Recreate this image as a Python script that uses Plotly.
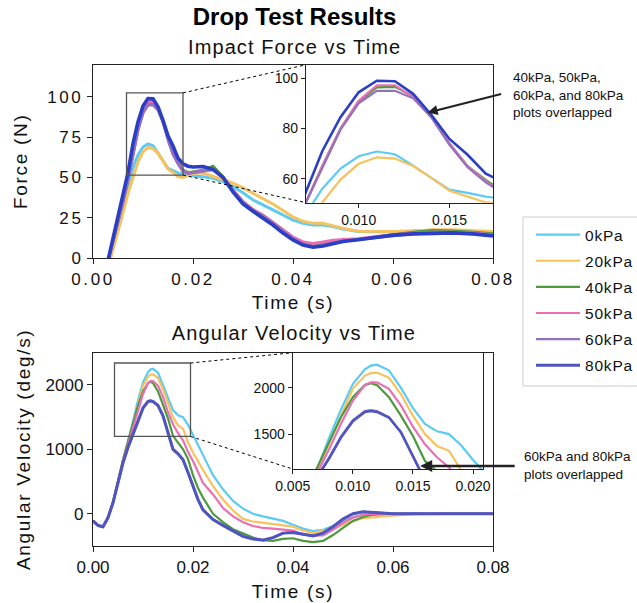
import plotly.graph_objects as go

# ---------------- data ----------------
series_names = ["0kPa", "20kPa", "40kPa", "50kPa", "60kPa", "80kPa"]

t_force = [0.000, 0.002, 0.003, 0.004, 0.005, 0.006, 0.007, 0.008, 0.009, 0.010,
           0.011, 0.012, 0.013, 0.014, 0.015, 0.016, 0.017, 0.018, 0.019, 0.020,
           0.022, 0.024, 0.026, 0.028, 0.030, 0.032, 0.034, 0.036, 0.038, 0.040,
           0.042, 0.044, 0.046, 0.048, 0.050, 0.053, 0.056, 0.060, 0.064, 0.068,
           0.072, 0.076, 0.080]

force_0kPa = [-8, -8, -4, 8, 20, 32, 45, 56, 64, 68.9, 70.8, 69.7, 65.2, 60.3, 55.6,
              54.3, 52.8, 52, 51.5, 51, 50.5, 49.5, 47.5, 44.3, 40.5, 36, 33, 30, 26.5,
              23.5, 21.5, 20.5, 20.5, 19.5, 18, 16.5, 16.3, 16.3, 16.8, 17.3, 17, 16.5, 16]
force_20kPa = [-10, -10, -6, 5, 16, 28, 40, 50.5, 59.6, 65.9, 68.5, 68, 65, 60.3, 55.2,
               53, 50.5, 50, 51.5, 52.5, 52.7, 50.5, 48.5, 46.4, 43.5, 40.2, 37, 33.5, 29.5,
               25.5, 22.8, 21.5, 21.6, 20, 18.4, 16.6, 16.4, 16.4, 16.8, 17.5, 17.6, 17, 16.5]
force_40kPa = [-8, -8, -2, 10, 23, 35, 49, 65, 80, 90.7, 96.4, 96.6, 92.8, 85, 74,
               65, 59.5, 54.5, 53, 53.5, 54.5, 57, 50.5, 42, 35, 30, 26.5, 22, 17.5,
               12.5, 9, 7.5, 8.5, 9.5, 10.5, 11.5, 12.8, 14.5, 16, 17, 16.8, 16, 15]
force_50kPa = [-8, -8, -2, 10, 23, 35, 49, 65, 80, 91, 97.2, 97.2, 92.5, 84.5, 74,
               65, 59, 54, 52.5, 53, 54, 55, 50, 42, 35, 30, 26.5, 22, 17.5,
               13, 10, 9, 10, 11, 11.5, 12, 13, 14.5, 15.3, 16, 16, 15.5, 14.5]
force_60kPa = [-8, -8, -2, 10, 23, 35, 49, 64.5, 79.5, 90, 95, 95, 92, 84.5, 73.5,
               64.5, 58.5, 54, 52.5, 53, 54, 55, 50, 41.5, 34.5, 29.5, 26, 21.5, 17,
               12, 8.5, 7, 8, 9.5, 10.5, 11.5, 12.5, 14, 15, 15.5, 15.5, 15, 14]
force_80kPa = [-8, -8, -1.5, 12, 25, 38, 53, 71, 84.5, 94.4, 99, 98.8, 93.8, 85.4, 75.8,
               69.5, 62, 58.5, 57, 56.5, 56.8, 55, 50, 41, 33.5, 29, 25, 20.5, 15.5,
               11.2, 8, 6.7, 7.5, 9, 10.2, 11.3, 12.5, 14.2, 15, 15.5, 15.6, 15, 13.7]

t_vel = [0.000, 0.001, 0.002, 0.003, 0.004, 0.005, 0.006, 0.007, 0.008, 0.009,
         0.010, 0.011, 0.0115, 0.012, 0.013, 0.014, 0.015, 0.016, 0.017, 0.018,
         0.019, 0.020, 0.021, 0.022, 0.024, 0.026, 0.028, 0.030, 0.032, 0.034,
         0.036, 0.038, 0.040, 0.042, 0.044, 0.046, 0.048, 0.050, 0.052, 0.054,
         0.056, 0.058, 0.060, 0.064, 0.070, 0.080]

vel_0kPa = [-110, -180, -200, -60, 180, 520, 830, 1110, 1450, 1760, 2040, 2200, 2240, 2250,
            2190, 2000, 1780, 1610, 1530, 1500, 1380, 1220, 1080, 900, 600, 380, 200, 80,
            0, -40, -80, -110, -170, -230, -270, -250, -190, -110, -50, -20, -15, -20, -10,
            0, 0, 0]
vel_20kPa = [-110, -180, -200, -60, 180, 520, 830, 1100, 1400, 1700, 1990, 2130, 2160, 2165,
             2110, 1930, 1700, 1500, 1370, 1320, 1110, 950, 820, 680, 430, 220, 50, -80,
             -120, -140, -160, -180, -200, -260, -300, -260, -230, -170, -110, -70, -50, -40,
             -30, -10, 0, 0]
vel_40kPa = [-110, -180, -200, -60, 180, 520, 840, 1130, 1400, 1680, 1900, 2030, 2050, 2030,
             1900, 1700, 1480, 1210, 1100, 1000, 850, 600, 400, 250, 0, -130, -240, -310,
             -370, -410, -420, -390, -380, -420, -440, -420, -330, -220, -110, -50, -15, 0,
             0, 0, 0, 0]
vel_50kPa = [-110, -190, -210, -60, 180, 520, 820, 1070, 1330, 1610, 1860, 2030, 2060, 2060,
             1990, 1810, 1580, 1390, 1250, 1140, 960, 820, 640, 480, 300, 90, -40, -130,
             -190, -220, -230, -240, -260, -320, -340, -335, -250, -140, -60, -15, 0, 0,
             0, 0, 0, 0]
vel_60kPa = [-110, -180, -200, -60, 170, 500, 790, 1035, 1240, 1470, 1650, 1750, 1760, 1750,
             1685, 1520, 1265, 1005, 935, 845, 645, 420, 225, 60, -90, -180, -270, -350,
             -390, -405, -370, -300, -290, -320, -340, -300, -200, -80, 0, 30, 20, 0,
             0, 0, 0, 0]
vel_80kPa = [-110, -180, -200, -60, 170, 500, 790, 1030, 1230, 1460, 1640, 1740, 1750, 1740,
             1680, 1520, 1260, 1000, 930, 840, 640, 420, 220, 60, -90, -180, -270, -350,
             -390, -410, -370, -300, -290, -320, -345, -300, -200, -80, 0, 30, 20, 0,
             0, 0, 0, 0]

force_series = [force_0kPa, force_20kPa, force_40kPa, force_50kPa, force_60kPa, force_80kPa]
vel_series = [vel_0kPa, vel_20kPa, vel_40kPa, vel_50kPa, vel_60kPa, vel_80kPa]

colors_force = ["#5BCBF4", "#F6C25E", "#4D9A3D", "#EA6FB3", "#9470BE", "#2B3EC6"]
colors_vel = ["#5BCBF4", "#F6C25E", "#4D9A3D", "#EA6FB3", "#9470BE", "#4E55BF"]

# zoom windows (data units)
force_zoom_rect = dict(x=[0.0067, 0.0180], y=[51.5, 102.5])
force_inset_range = dict(x=[0.0071, 0.0174], y=[50.4, 105.4])
vel_zoom_rect = dict(x=[0.0043, 0.0195], y=[1200, 2340])
vel_inset_range = dict(x=[0.0050, 0.0208], y=[1123, 2380])

title_text = "Drop Test Results"
subtitle_force = "Impact Force vs Time"
subtitle_vel = "Angular Velocity vs Time"
note_force_lines = ["40kPa, 50kPa,", "60kPa, and 80kPa", "plots overlapped"]
note_vel_lines = ["60kPa and 80kPa", "plots overlapped"]

# ---------------- layout geometry (pixels) ----------------
W, H = 637, 603
FONT = "Liberation Sans, Arial, Helvetica, sans-serif"


def fx(px):
    return px / W


def fy(py):
    return 1 - py / H


dom_top = dict(x=[fx(93), fx(493)], y=[fy(258), fy(64.7)])
dom_bot = dict(x=[fx(93), fx(493)], y=[fy(546), fy(352.7)])
dom_top_in = dict(x=[fx(306), fx(493)], y=[fy(202.7), fy(64.7)])
dom_bot_in = dict(x=[fx(292.7), fx(482.7)], y=[fy(469), fy(352.7)])

fig = go.Figure()

main_w = [3, 3, 3, 3, 3, 3.6]
inset_w = [2.2, 2.2, 2.2, 2.2, 2.2, 2.6]
bot_w = [2.2, 2.2, 2.2, 2.2, 2.4, 3.0]

for i, name in enumerate(series_names):
    fig.add_trace(go.Scatter(x=t_force, y=force_series[i], mode="lines", name=name,
                             legendgroup=name, showlegend=False,
                             line=dict(color=colors_force[i], width=main_w[i]),
                             xaxis="x", yaxis="y"))
for i, name in enumerate(series_names):
    fig.add_trace(go.Scatter(x=t_vel, y=vel_series[i], mode="lines", name=name,
                             legendgroup=name, showlegend=True,
                             line=dict(color=colors_vel[i], width=bot_w[i]),
                             xaxis="x2", yaxis="y2"))
for i, name in enumerate(series_names):
    fig.add_trace(go.Scatter(x=t_force, y=force_series[i], mode="lines", name=name,
                             legendgroup=name, showlegend=False,
                             line=dict(color=colors_force[i], width=inset_w[i]),
                             xaxis="x3", yaxis="y3"))
for i, name in enumerate(series_names):
    fig.add_trace(go.Scatter(x=t_vel, y=vel_series[i], mode="lines", name=name,
                             legendgroup=name, showlegend=False,
                             line=dict(color=colors_vel[i], width=inset_w[i]),
                             xaxis="x4", yaxis="y4"))

axis_common = dict(showline=True, linecolor="#222", linewidth=1.3, mirror=True,
                   ticks="outside", ticklen=5, tickwidth=1.3, tickcolor="#222",
                   showgrid=False, zeroline=False, automargin=False,
                   tickfont=dict(size=17, color="#111"))
inset_common = dict(axis_common, tickfont=dict(size=14, color="#111"), ticklen=4)

fig.update_layout(
    width=W, height=H,
    margin=dict(l=0, r=0, t=0, b=0, autoexpand=False),
    paper_bgcolor="white", plot_bgcolor="white",
    font=dict(family=FONT, color="#111"),
    title=dict(text="<b>" + title_text + "</b>", x=fx(294.5), xanchor="center",
               y=fy(16.5), yanchor="middle", yref="container",
               font=dict(size=24, color="#000")),
    xaxis=dict(axis_common, domain=dom_top["x"], range=[0, 0.08], dtick=0.02,
               tickformat=".2f", anchor="y",
               title=dict(text="Time (s)", font=dict(size=19), standoff=8)),
    yaxis=dict(axis_common, domain=dom_top["y"], range=[0, 120], dtick=25, anchor="x",
               title=dict(text="Force (N)", font=dict(size=19), standoff=22)),
    xaxis2=dict(axis_common, domain=dom_bot["x"], range=[0, 0.08], dtick=0.02,
                tickformat=".2f", anchor="y2",
                title=dict(text="Time (s)", font=dict(size=19), standoff=9)),
    yaxis2=dict(axis_common, domain=dom_bot["y"], range=[-500, 2500], dtick=1000,
                anchor="x2",
                title=dict(text="Angular Velocity (deg/s)", font=dict(size=19), standoff=9)),
    xaxis3=dict(inset_common, domain=dom_top_in["x"], range=force_inset_range["x"],
                tickvals=[0.010, 0.015], tickformat=".3f", anchor="y3"),
    yaxis3=dict(inset_common, domain=dom_top_in["y"], range=force_inset_range["y"],
                tickvals=[60, 80, 100], anchor="x3"),
    xaxis4=dict(inset_common, domain=dom_bot_in["x"], range=vel_inset_range["x"],
                tickvals=[0.005, 0.010, 0.015, 0.020], tickformat=".3f", anchor="y4"),
    yaxis4=dict(inset_common, domain=dom_bot_in["y"], range=vel_inset_range["y"],
                tickvals=[1500, 2000], anchor="x4"),
    legend=dict(x=fx(531), y=fy(218), xanchor="left", yanchor="top",
                bgcolor="rgba(0,0,0,0)", borderwidth=0, tracegroupgap=3,
                font=dict(size=15.5, color="#111"), itemwidth=44),
    showlegend=True,
)


def to_paper(val_x, val_y, dom, rng_x, rng_y):
    px = dom["x"][0] + (val_x - rng_x[0]) / (rng_x[1] - rng_x[0]) * (dom["x"][1] - dom["x"][0])
    py = dom["y"][0] + (val_y - rng_y[0]) / (rng_y[1] - rng_y[0]) * (dom["y"][1] - dom["y"][0])
    return px, py


shapes = []
# zoom rectangles
shapes.append(dict(type="rect", xref="x", yref="y",
                   x0=force_zoom_rect["x"][0], x1=force_zoom_rect["x"][1],
                   y0=force_zoom_rect["y"][0], y1=force_zoom_rect["y"][1],
                   line=dict(color="#555", width=1.3), layer="above"))
shapes.append(dict(type="rect", xref="x2", yref="y2",
                   x0=vel_zoom_rect["x"][0], x1=vel_zoom_rect["x"][1],
                   y0=vel_zoom_rect["y"][0], y1=vel_zoom_rect["y"][1],
                   line=dict(color="#555", width=1.3), layer="above"))

# connector lines
for rect, dom_main, rx, ry, dom_in in [
    (force_zoom_rect, dom_top, [0, 0.08], [0, 120], dom_top_in),
    (vel_zoom_rect, dom_bot, [0, 0.08], [-500, 2500], dom_bot_in),
]:
    for k in (1, 0):
        x0, y0 = to_paper(rect["x"][1], rect["y"][k], dom_main, rx, ry)
        x1 = dom_in["x"][0]
        y1 = dom_in["y"][k]
        shapes.append(dict(type="line", xref="paper", yref="paper", x0=x0, y0=y0,
                           x1=x1, y1=y1, line=dict(color="#000", width=1, dash="3px,3px"),
                           layer="above"))

# legend frame
shapes.append(dict(type="rect", xref="paper", yref="paper", x0=fx(523), x1=fx(660),
                   y0=fy(386), y1=fy(217), line=dict(color="#cccccc", width=1),
                   fillcolor="white", layer="below"))
fig.update_layout(shapes=shapes)

annotations = [
    dict(text=subtitle_force, xref="paper", yref="paper", x=fx(294), y=fy(47),
         xanchor="center", yanchor="middle", showarrow=False, font=dict(size=20, color="#111")),
    dict(text=subtitle_vel, xref="paper", yref="paper", x=fx(294), y=fy(333),
         xanchor="center", yanchor="middle", showarrow=False, font=dict(size=20, color="#111")),
    dict(text="<br>".join(note_force_lines), xref="paper", yref="paper", x=fx(511), y=fy(95),
         xanchor="left", yanchor="middle", align="left", showarrow=False,
         font=dict(size=13.5, color="#111")),
    dict(text="<br>".join(note_vel_lines), xref="paper", yref="paper", x=fx(522), y=fy(465),
         xanchor="left", yanchor="middle", align="left", showarrow=False,
         font=dict(size=13.5, color="#111")),
    # arrows
    dict(text="", x=0.0138, y=86.3, xref="x3", yref="y3", showarrow=True,
         ax=75, ay=-19, arrowhead=2, arrowsize=1, arrowwidth=2, arrowcolor="#222"),
    dict(text="", x=0.0156, y=1155, xref="x4", yref="y4", showarrow=True,
         ax=96, ay=0, arrowhead=2, arrowsize=1, arrowwidth=2.4, arrowcolor="#222"),
]
fig.update_layout(annotations=annotations)

# slightly wider letter spacing, as in the reference rendering
css = (
    ".subplot.xy .xtick text, .subplot.xy .ytick text,"
    ".subplot.x2y2 .xtick text, .subplot.x2y2 .ytick text{letter-spacing:2.6px}"
    ".subplot.x3y3 .xtick text, .subplot.x3y3 .ytick text,"
    ".subplot.x4y4 .xtick text, .subplot.x4y4 .ytick text{letter-spacing:0.8px}"
    "text.xtitle, text.x2title, text.ytitle, text.y2title{letter-spacing:1.7px}"
    "g.annotation[data-index='0'] text, g.annotation[data-index='1'] text{letter-spacing:1.1px}"
    "text.legendtext{letter-spacing:0.8px}"
)
post = ("var s=document.createElement('style');s.innerHTML=\"" + css +
        "\";document.head.appendChild(s);")

fig.write_html("out.html", post_script=post)
